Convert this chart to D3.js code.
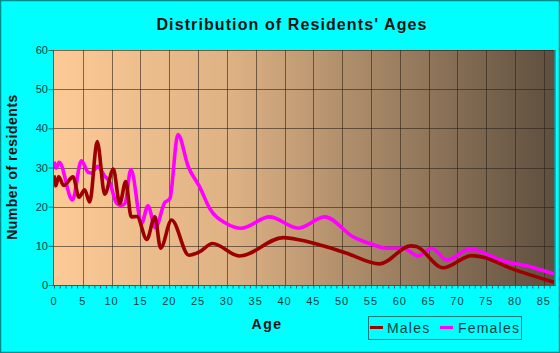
<!DOCTYPE html>
<html><head><meta charset="utf-8">
<script src="https://cdn.jsdelivr.net/npm/d3@7"></script>
<style>html,body{margin:0;padding:0;background:#00ffff;}svg{display:block;font-family:"Liberation Sans",Arial,sans-serif;}</style>
</head><body><svg id="c" width="560" height="353"></svg>
<script>
const title = "Distribution of Residents' Ages";
const xLabel = "Age";
const yLabel = "Number of residents";
const xTicks = [0,5,10,15,20,25,30,35,40,45,50,55,60,65,70,75,80,85];
const yTicks = [0,10,20,30,40,50,60];
const seriesNames = ["Males","Females"];
const maleAges = [0,0.3,0.8,1.7,3.3,4.35,5.3,6.2,7.5,8.8,10.3,11.4,12.45,13.4,14.4,16.1,17.5,18.5,20.4,23.4,25.3,27.5,32.2,39.8,42.7,46.7,50.8,56.5,61.9,62.9,67.5,72.5,74.5,79.2,86.8];
const maleValues = [28,25.3,27.6,25.4,27.6,22.4,24.3,21.2,36.6,23.2,29.6,20.8,26.4,17.4,17.5,11.6,17.4,9.4,16.6,7.6,8.5,10.6,7.4,12.1,11.5,10,8.1,5.4,10,9.8,4.4,7.5,7.1,4.3,0.7];
const femaleAges = [0,0.35,0.9,3.2,4.75,6.0,6.5,7.6,8.8,9.6,10.8,11.5,12.3,13.35,15.2,16.3,17.6,19.2,20.1,21.5,23.3,25.3,27,29.9,32.5,37.4,42.4,47,51.9,54.8,57.7,60.6,63.2,65.5,68.2,72.2,78,82,86.8];
const femaleValues = [31.5,29.8,31.3,21.7,31.7,28.7,28.6,30.3,27.8,26.5,21,20.3,20.8,29.5,15.8,20.2,14.6,21,22,38.4,30.2,25,19.6,15.7,14.5,17.4,14.5,17.4,12.3,10.6,9.4,9.4,7.4,9.4,6.4,9.2,6.1,4.9,2.8];
const colors = ["#9c0000","#ff00ff"];

const svg = d3.select("#c");
const W=560,H=353;
const L=54,R=554.5,T=50,B=285;
const x = d3.scaleLinear().domain([0,86.85]).range([L,R]);
const y = d3.scaleLinear().domain([0,60]).range([B,T]);

// outer border
svg.append("rect").attr("x",0.5).attr("y",0.5).attr("width",W-1).attr("height",H-1)
  .attr("fill","#00ffff").attr("stroke","#008b8b").attr("stroke-width",1.5);

const defs = svg.append("defs");
const g = defs.append("linearGradient").attr("id","bg").attr("x1","0").attr("x2","1").attr("y1","0").attr("y2","0");
g.append("stop").attr("offset","0").attr("stop-color","#fdca96");
g.append("stop").attr("offset","0.35").attr("stop-color","#deb284");
g.append("stop").attr("offset","1").attr("stop-color","#5e4f3f");
defs.append("clipPath").attr("id","clip").append("rect").attr("x",L).attr("y",T-5).attr("width",R-L).attr("height",B-T+5);

svg.append("rect").attr("x",L).attr("y",T).attr("width",R-L).attr("height",B-T).attr("fill","url(#bg)");

// grid
svg.append("g").selectAll("line").data(xTicks.filter(d=>d>0)).join("line")
  .attr("x1",d=>Math.round(x(d))+0.5).attr("x2",d=>Math.round(x(d))+0.5).attr("y1",T).attr("y2",B)
  .attr("stroke","rgba(45,35,25,0.6)").attr("stroke-width",1);
svg.append("g").selectAll("line").data(yTicks.filter(d=>d>0)).join("line")
  .attr("x1",L).attr("x2",R).attr("y1",d=>Math.round(y(d))+0.5).attr("y2",d=>Math.round(y(d))+0.5)
  .attr("stroke","rgba(45,35,25,0.6)").attr("stroke-width",1);

// lines
const line = d3.line().x(d=>x(d[0])).y(d=>y(d[1])).curve(d3.curveMonotoneX);
const lg = svg.append("g").attr("clip-path","url(#clip)");
lg.append("path").datum(femaleAges.map((a,i)=>[a,femaleValues[i]])).attr("d",line)
  .attr("fill","none").attr("stroke",colors[1]).attr("stroke-width",3.6).attr("stroke-linejoin","round");
lg.append("path").datum(maleAges.map((a,i)=>[a,maleValues[i]])).attr("d",line)
  .attr("fill","none").attr("stroke",colors[0]).attr("stroke-width",3.6).attr("stroke-linejoin","round");

// axes
const axisColor="#1a6a6a";
const xAxis = d3.axisBottom(x).tickValues(d3.range(0,87,1)).tickSize(3).tickFormat("");
const xa = svg.append("g").attr("transform",`translate(0,${B+0.5})`).call(xAxis);
xa.select(".domain").remove();
xa.selectAll("line").attr("stroke",axisColor);
svg.append("line").attr("x1",L).attr("x2",R+1).attr("y1",B+0.5).attr("y2",B+0.5).attr("stroke",axisColor);
svg.append("line").attr("x1",L-0.5).attr("x2",L-0.5).attr("y1",T).attr("y2",B+1).attr("stroke",axisColor);
svg.append("line").attr("x1",R+0.5).attr("x2",R+0.5).attr("y1",T).attr("y2",B+1).attr("stroke",axisColor);

svg.append("g").selectAll("text").data(xTicks).join("text")
  .attr("x",d=>x(d)).attr("y",305).attr("text-anchor","middle")
  .attr("font-size",11).attr("letter-spacing",1).attr("fill","#0b3d3d").text(d=>d);

const yAxis = d3.axisLeft(y).tickValues(yTicks).tickSize(5).tickFormat("");
const ya = svg.append("g").attr("transform",`translate(${L-0.5},0)`).call(yAxis);
ya.select(".domain").remove();
ya.selectAll("line").attr("stroke",axisColor);
svg.append("g").selectAll("text").data(yTicks).join("text")
  .attr("x",48).attr("y",d=>y(d)+4).attr("text-anchor","end")
  .attr("font-size",11).attr("fill","#0b3d3d").text(d=>d);

// titles
svg.append("text").attr("x",292).attr("y",30).attr("text-anchor","middle")
  .attr("font-size",16).attr("font-weight","bold").attr("letter-spacing",1.1).attr("fill","#111").text(title);
svg.append("text").attr("x",267).attr("y",329).attr("text-anchor","middle")
  .attr("font-size",14).attr("font-weight","bold").attr("letter-spacing",1.5).attr("fill","#111").text(xLabel);
svg.append("text").attr("transform","translate(17,167) rotate(-90)").attr("text-anchor","middle")
  .attr("font-size",14).attr("font-weight","bold").attr("letter-spacing",0.5).attr("fill","#111").text(yLabel);

// legend
const leg = svg.append("g");
leg.append("rect").attr("x",368.5).attr("y",316.5).attr("width",153).attr("height",23)
  .attr("fill","none").attr("stroke","#1a7a7a").attr("stroke-width",1);
const legX=[370,440], legTX=[387,458];
seriesNames.forEach((n,i)=>{
  leg.append("line").attr("x1",legX[i]).attr("x2",legX[i]+13).attr("y1",327.5).attr("y2",327.5)
    .attr("stroke",colors[i]).attr("stroke-width",3);
  leg.append("text").attr("x",legTX[i]).attr("y",332.5).attr("font-size",14).attr("letter-spacing",1.2)
    .attr("fill","#0b3d3d").text(n);
});
</script></body></html>
